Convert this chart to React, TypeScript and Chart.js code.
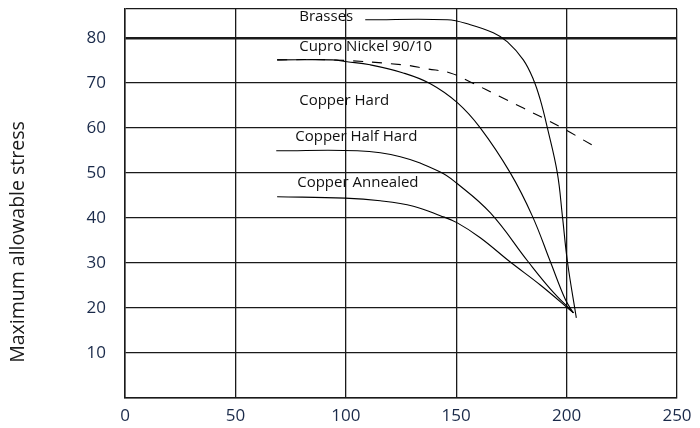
import React, { useEffect, useRef } from 'react';
import { Chart, registerables } from 'chart.js';

Chart.register(...registerables);

// Axis ticks
const xTickValues = [0, 50, 100, 150, 200, 250];
const yTickValues = [10, 20, 30, 40, 50, 60, 70, 80];
const yAxisMax = 86.4;
const yTitle = 'Maximum allowable stress';

// Series (temperature vs maximum allowable stress)
const brassesX = [108.8, 146, 156.4, 166.8, 173.2, 180.4, 185, 188.1, 191.3, 195.8, 198.1, 200.4, 204.4];
const brassesY = [84, 84, 82.9, 81.1, 79.1, 75.1, 70.7, 66.2, 60, 50, 40.4, 30.2, 17.8];

const cuproX = [68.9, 93.8, 126, 136.9, 147.3, 156.4, 170, 180.4, 197.2, 212.2];
const cuproY = [75.1, 75.1, 74, 73.1, 72.2, 70.2, 66.9, 64.4, 60.2, 56];

const hardX = [68.9, 93.8, 100.6, 111, 126, 138.3, 150.5, 160.9, 174.5, 184.5, 192.7, 199.5, 203.1];
const hardY = [75.1, 75.1, 74.7, 74, 72.2, 69.8, 65.6, 60, 50, 40.4, 30.2, 21.8, 18.9];

const halfHardX = [68.5, 105.2, 124.7, 142.8, 150, 165.5, 182.7, 192.7, 203.1];
const halfHardY = [54.9, 54.9, 53.6, 50.2, 47.8, 41.1, 30.2, 24.2, 18.9];

const annealedX = [68.9, 99.7, 115.6, 130.6, 142.8, 150.5, 160.9, 174.5, 188.1, 203.1];
const annealedY = [44.7, 44.4, 43.8, 42.6, 40.5, 38.9, 35.6, 30.2, 25.1, 18.9];

const seriesNames = ['Brasses', 'Cupro Nickel 90/10', 'Copper Hard', 'Copper Half Hard', 'Copper Annealed'];
const seriesDashed = [false, true, false, false, false];
const labelX = [78.9, 78.9, 78.9, 77.1, 78];
const labelY = [84.6, 78.0, 66.1, 58, 47.8];

const toPoints = (xs: number[], ys: number[]) => xs.map((x, i) => ({ x, y: ys[i] }));

const App: React.FC = () => {
  const canvasRef = useRef<HTMLCanvasElement | null>(null);

  useEffect(() => {
    if (!canvasRef.current) return;
    const allX = [brassesX, cuproX, hardX, halfHardX, annealedX];
    const allY = [brassesY, cuproY, hardY, halfHardY, annealedY];

    const labelPlugin = {
      id: 'seriesLabels',
      afterDatasetsDraw(chart: any) {
        const { ctx, scales } = chart;
        ctx.save();
        ctx.fillStyle = '#111';
        ctx.font = '15px "Open Sans"';
        ctx.textAlign = 'left';
        ctx.textBaseline = 'middle';
        seriesNames.forEach((name, i) => {
          ctx.fillText(name, scales.x.getPixelForValue(labelX[i]), scales.y.getPixelForValue(labelY[i]));
        });
        ctx.restore();
      },
    };

    const titlePlugin = {
      id: 'yTitle',
      afterDraw(chart: any) {
        const { ctx } = chart;
        ctx.save();
        ctx.translate(18, 242);
        ctx.rotate(-Math.PI / 2);
        ctx.fillStyle = '#1a1a1a';
        ctx.font = '19.5px "Open Sans"';
        ctx.textAlign = 'center';
        ctx.textBaseline = 'middle';
        ctx.fillText(yTitle, 0, 0);
        ctx.restore();
      },
    };

    const chart = new Chart(canvasRef.current, {
      type: 'line',
      data: {
        datasets: seriesNames.map((name, i) => ({
          label: name,
          data: toPoints(allX[i], allY[i]),
          borderColor: '#000',
          borderWidth: 1.1,
          borderDash: seriesDashed[i] ? [10, 9] : [],
          pointRadius: 0,
          fill: false,
          tension: 0.4,
        })),
      },
      options: {
        animation: false,
        responsive: false,
        devicePixelRatio: 1,
        layout: { padding: { left: 0, right: 23, top: 9, bottom: 0 } },
        plugins: { legend: { display: false }, tooltip: { enabled: false } },
        scales: {
          x: {
            type: 'linear',
            min: 0,
            max: 250,
            afterBuildTicks: (scale: any) => {
              scale.ticks = xTickValues.map((v) => ({ value: v }));
            },
            afterFit: (scale: any) => {
              scale.height = 30;
            },
            grid: { color: '#1a1a1a', lineWidth: 1.3, drawTicks: false },
            border: { color: '#1a1a1a', width: 1.5 },
            ticks: {
              padding: 8,
              color: '#1a2a4a',
              font: { family: '"Open Sans"', size: 17 },
              maxRotation: 0,
            },
          },
          y: {
            type: 'linear',
            min: 0,
            max: yAxisMax,
            afterBuildTicks: (scale: any) => {
              scale.ticks = [0, ...yTickValues, yAxisMax].map((v) => ({ value: v }));
            },
            afterFit: (scale: any) => {
              scale.width = 125;
              scale.paddingTop = 0;
              scale.paddingBottom = 0;
            },
            grid: {
              color: '#1a1a1a',
              lineWidth: (ctx: any) => (ctx.tick && ctx.tick.value === 80 ? 2.6 : 1.3),
              drawTicks: false,
            },
            border: { color: '#1a1a1a', width: 1.5 },
            ticks: {
              padding: 19,
              color: '#1a2a4a',
              font: { family: '"Open Sans"', size: 17 },
              callback: (v: any) => (yTickValues.includes(Number(v)) ? String(v) : ''),
            },
          },
        },
      },
      plugins: [labelPlugin, titlePlugin],
    });

    return () => chart.destroy();
  }, []);

  return (
    <div style={{ position: 'fixed', left: 0, top: 0, width: 700, height: 428, background: '#fff' }}>
      <canvas ref={canvasRef} width={700} height={428} />
    </div>
  );
};

export default App;
